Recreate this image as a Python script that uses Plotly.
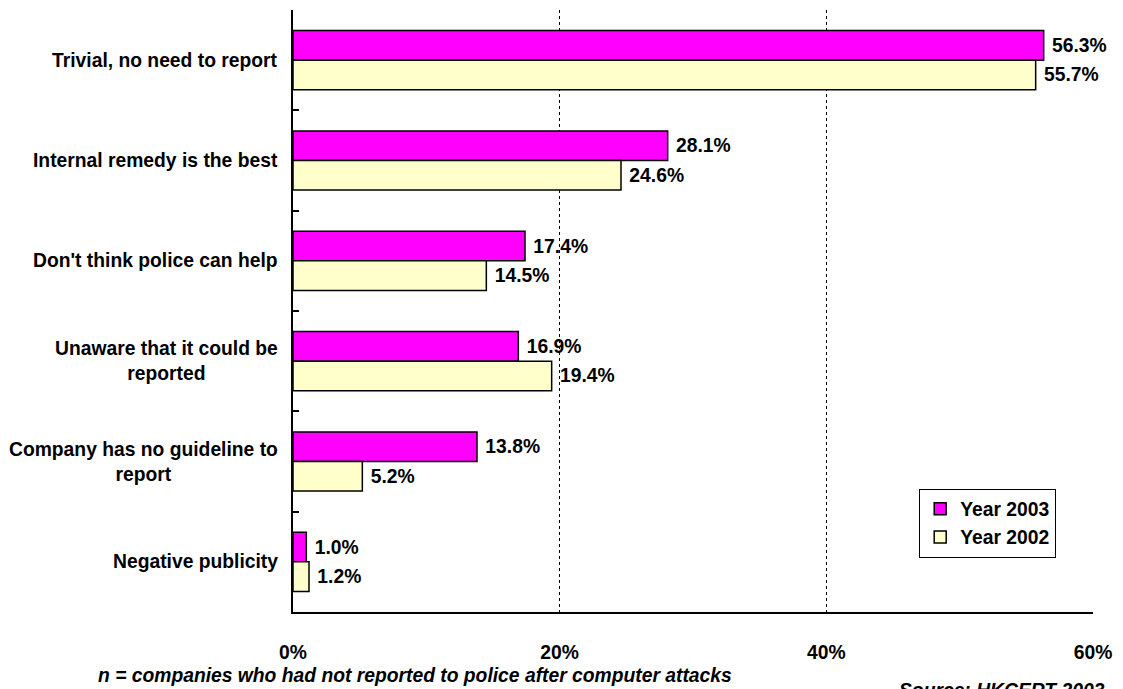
import plotly.graph_objects as go

# Reasons for not reporting computer attacks to police
categories = [
    "Trivial, no need to report",
    "Internal remedy is the best",
    "Don't think police can help",
    "Unaware that it could be<br>reported",
    "Company has no guideline to<br>report",
    "Negative publicity",
]
year_2003 = [56.3, 28.1, 17.4, 16.9, 13.8, 1.0]
year_2002 = [55.7, 24.6, 14.5, 19.4, 5.2, 1.2]
series_names = ["Year 2003", "Year 2002"]
x_ticks = [0, 20, 40, 60]
x_tick_labels = ["0%", "20%", "40%", "60%"]

footnote = "n = companies who had not reported to police after computer attacks"
source = "Source: HKCERT 2003"

FONT = "Arial, 'Liberation Sans', sans-serif"
FS = 19.3
MAGENTA = "#FF00FF"
CREAM = "#FFFFCC"

fig = go.Figure()
for name, vals, color in [(series_names[0], year_2003, MAGENTA),
                          (series_names[1], year_2002, CREAM)]:
    fig.add_trace(go.Bar(
        y=categories, x=vals, name=name, orientation="h",
        marker=dict(color=color, line=dict(color="black", width=1.5)),
        text=[f"\u00a0{v:.1f}%" for v in vals],
        textposition="outside",
        textfont=dict(family=FONT, size=FS, color="black", weight="bold"),
        constraintext="none",
        cliponaxis=False,
    ))

# Category labels, centred line by line to the left of the axis
for c in categories:
    fig.add_annotation(
        x=0, xref="paper", y=c, yref="y", xanchor="right", yanchor="middle",
        xshift=-13, text=c, showarrow=False, align="center",
        font=dict(family=FONT, size=FS, color="black", weight="bold"),
    )

fig.add_annotation(
    x=0.152, xref="paper", y=-0.1047, yref="paper", xanchor="center", yanchor="middle",
    text=f"<i>{footnote}</i>", showarrow=False,
    font=dict(family=FONT, size=FS, color="black", weight="bold"),
)
fig.add_annotation(
    x=0.886, xref="paper", y=-0.110, yref="paper", xanchor="center", yanchor="top",
    text=f"<i>{source}</i>", showarrow=False,
    font=dict(family=FONT, size=FS, color="black", weight="bold"),
)

fig.update_layout(
    width=1123, height=689,
    margin=dict(l=293, r=30, t=10, b=77),
    paper_bgcolor="white", plot_bgcolor="white",
    barmode="group", bargap=0.41, bargroupgap=0,
    font=dict(family=FONT, color="black"),
    showlegend=True,
    legend=dict(
        x=0.954, y=0.09, xanchor="right", yanchor="bottom",
        bgcolor="white", bordercolor="black", borderwidth=1,
        font=dict(family=FONT, size=FS, color="black", weight="bold"),
        itemwidth=30, tracegroupgap=0,
    ),
    xaxis=dict(
        range=[0, 60], tickvals=x_ticks, ticktext=x_tick_labels,
        showgrid=True, gridcolor="black", griddash="dot", gridwidth=1,
        zeroline=False, showline=True, linecolor="black", linewidth=2,
        ticks="", ticklabelstandoff=22,
        tickfont=dict(family=FONT, size=FS, color="black", weight="bold"),
    ),
    yaxis=dict(
        autorange="reversed", showline=True, linecolor="black", linewidth=2,
        showticklabels=False, tickson="boundaries", ticks="inside",
        ticklen=6, tickcolor="black", tickwidth=2, showgrid=False,
    ),
)

fig.write_html("out.html")
